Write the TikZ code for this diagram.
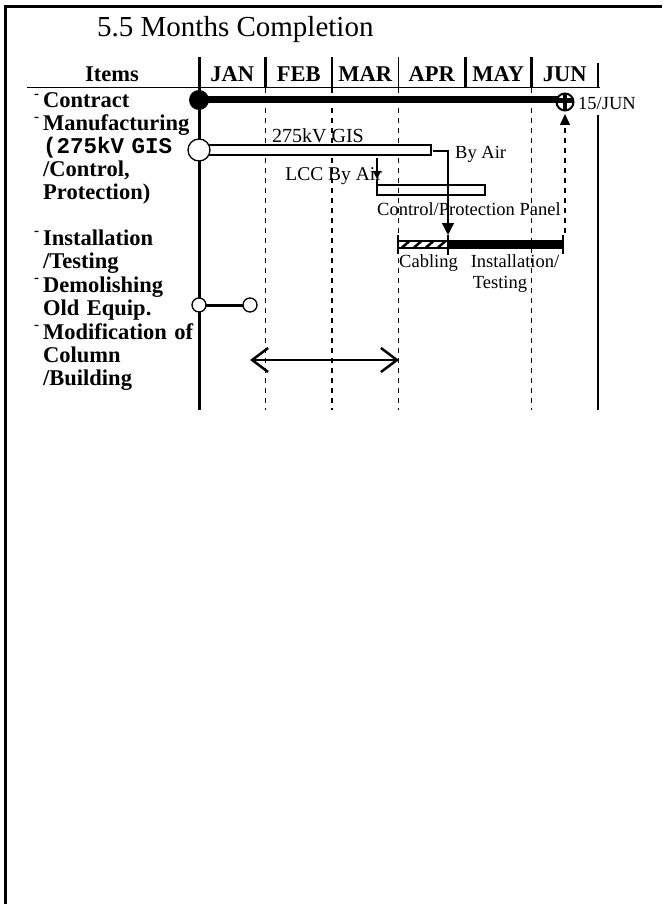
\documentclass[tikz,border=0pt]{standalone}
\usepackage{fontspec}
\setmainfont{Liberation Serif}
\setmonofont{Liberation Mono}
\usetikzlibrary{arrows.meta}
\newcommand{\fs}[1]{\fontsize{#1}{#1}\selectfont}
\newcommand{\itemdot}{\llap{\raisebox{.42em}{\fs{15}\bfseries -}\hspace{4pt}}}

\begin{document}
\begin{tikzpicture}[x=1pt, y=-1pt,
    lbl/.style={inner sep=0pt, anchor=base west, text width=170pt, align=left,
      font=\fontsize{22.5}{23}\selectfont\bfseries},
    mon/.style={inner sep=0pt, anchor=base, font=\fs{22.5}\bfseries},
    note/.style={inner sep=0pt, anchor=base west, font=\fs{18.5}},
    dsh/.style={line width=1.3pt, dash pattern=on 5pt off 5pt},
    thin/.style={line width=1.3pt}]
  \useasboundingbox (0,0) rectangle (662,904);
  \def\xo{199}   % start of JAN
  \def\mw{66.5}  % month width
  % frame and title
  \draw[line width=3pt] (5.5,904) -- (5.5,7) -- (662,7);
  \node[inner sep=0pt, anchor=base west, font=\fs{29}] (title) at (97,37) {5.5 Months Completion};
  % header
  \node[mon] (items) at (112,82) {Items};
  \foreach \m [count=\i from 0] in {JAN,FEB,MAR,APR,MAY,JUN}
    \node[mon] (m\i) at ({\xo+(\i+.5)*\mw},82) {\m};
  \foreach \i/\w in {1/3,2/1.5,3/1.5,4/3,5/3}
    \draw[line width=\w pt] ({\xo+\i*\mw},57) -- ({\xo+\i*\mw},88);
  \draw[thin] ({\xo+6*\mw},63) -- ({\xo+6*\mw},88);
  \draw[line width=1.5pt] (27,87.5) -- (600,87.5);
  % month lines
  \foreach \i in {1,2,3,5}
    \draw[dsh] ({\xo+\i*\mw},88) -- ({\xo+\i*\mw},410);
  \draw[line width=3pt] (\xo,57) -- (\xo,410);
  \draw[line width=1.5pt] (598,115) -- (598,410);
  % item labels
  \node[lbl] (contract) at (43,108) {\itemdot Contract};
  \node[lbl] (manuf) at (43,131) {\itemdot Manufacturing\\
    {\ttfamily(275kV GIS}\\ /Control,\\ Protection)};
  \node[lbl] (install) at (43,245) {\itemdot Installation\\ /Testing};
  \node[lbl] (demol) at (43,292) {\itemdot Demolishing\\ Old Equip.};
  \node[lbl] (modif) at (43,339) {\itemdot Modification of\\ Column\\ /Building};
  % contract
  \draw[line width=7pt] (\xo,100) -- (565,100);
  \fill (\xo,100) circle (10);
  \draw[line width=2pt, fill=white] (565,102) circle (8.5);
  \draw[line width=3.5pt] (565,93) -- (565,111);
  \draw[line width=5pt] (556,101) -- (574,101);
  \node[note] (jun15) at (578,110) {15/JUN};
  \draw[dsh, -{Triangle[length=11pt,width=10pt]}] (565,233) -- (565,114);
  % manufacturing
  \draw[thin, fill=white] (\xo,145) rectangle (431,155);
  \draw[thin, fill=white] (\xo,150) circle (11);
  \node[note, font=\fs{20}] (gis) at (272,143) {275kV GIS};
  \draw[thin] (377,185) rectangle (485,195);
  \draw[thin, -{Triangle[length=8pt,width=8pt]}] (377,158) -- (377,179);
  \draw[thin] (377,179) -- (377,185);
  \node[note, anchor=base east, font=\fs{19.5}] (lcc) at (382,180) {LCC By Air};
  \node[note] (panel) at (377,215) {Control/Protection Panel};
  \draw[thin, -{Triangle[length=12pt,width=12pt]}] (433,151) -- (448,151) -- (448,235);
  \node[note] (byair) at (455,159) {By Air};
  % installation / testing
  \draw[thin] (398,241) rectangle (448,248);
  \foreach \k in {0,...,3}
    \draw[line width=2.5pt] ({402+12*\k},247.5) -- ({409+12*\k},241.5);
  \fill (448,240) rectangle (563,249);
  \draw[line width=2pt] (398,235) -- (398,254);
  \draw[line width=2pt] (563,235) -- (563,254);
  \draw[thin] (448,235) -- (448,255);
  \node[note] (cabling) at (399,267) {Cabling};
  \node[note, anchor=base] (inst) at (515,267) {Installation/};
  \node[note, anchor=base] (test) at (500,288) {Testing};
  % demolishing
  \draw[line width=3pt] (\xo,305) -- (250,305);
  \draw[thin, fill=white] (\xo,305) circle (7);
  \draw[thin, fill=white] (250,305) circle (7);
  % modification
  \draw[line width=2.5pt, {Straight Barb[length=16pt,width=24pt]}-{Straight Barb[length=16pt,width=24pt]}]
    (250,360) -- (399,360);
\end{tikzpicture}
\end{document}
